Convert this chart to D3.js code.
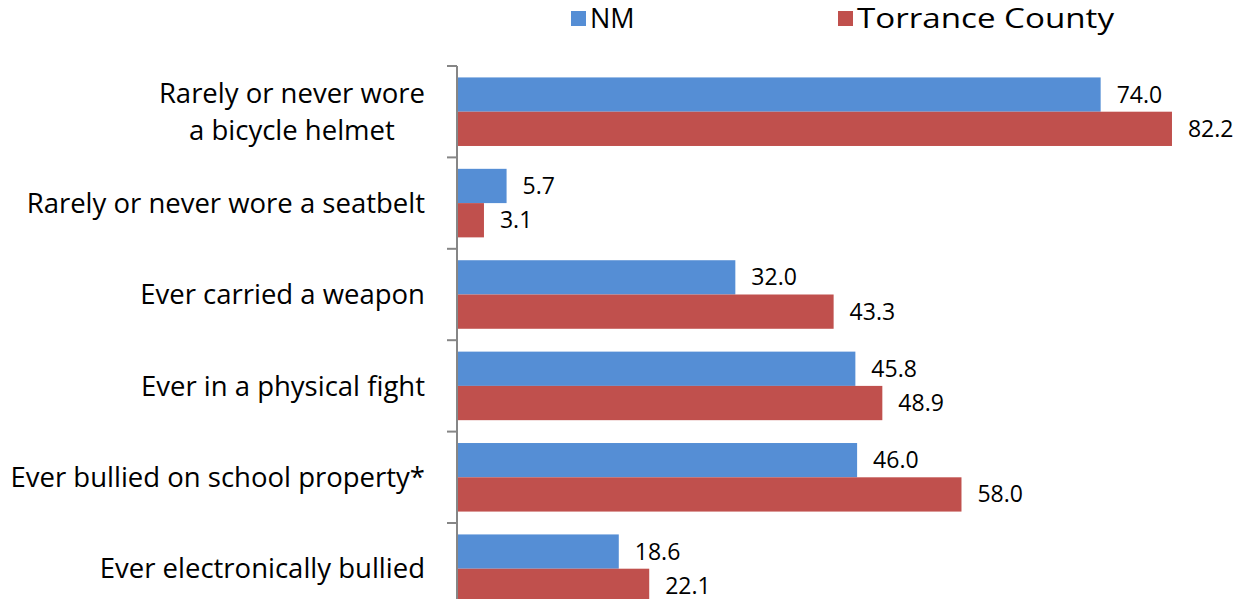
<!DOCTYPE html>
<html lang="en">
<head>
<meta charset="utf-8">
<title>Injury and violence indicators</title>
<script src="https://d3js.org/d3.v7.min.js"></script>
<style>
  body { margin: 0; background: #fff; }
  svg { display: block; font-family: "Open Sans", sans-serif; }
</style>
</head>
<body>
<script>
  // data
  var categories = [
    ["Rarely or never wore", "a bicycle helmet"],
    ["Rarely or never wore a seatbelt"],
    ["Ever carried a weapon"],
    ["Ever in a physical fight"],
    ["Ever bullied on school property*"],
    ["Ever electronically bullied"]
  ];
  var seriesNames = ["NM", "Torrance County"];
  var nmValues = [74.0, 5.7, 32.0, 45.8, 46.0, 18.6];
  var torranceValues = [82.2, 3.1, 43.3, 48.9, 58.0, 22.1];
  var colors = ["#558ed5", "#c0504d"];

  var svgWidth = 1241, svgHeight = 599;
  var axisX = 457, plotTop = 66, band = 91.4;

  var svg = d3.select("body").append("svg")
    .attr("width", svgWidth)
    .attr("height", svgHeight);

  var y = d3.scaleBand()
    .domain(d3.range(categories.length))
    .range([plotTop, plotTop + band * categories.length])
    .paddingInner(0.25)
    .paddingOuter(0.125);

  var inner = d3.scaleBand()
    .domain([0, 1])
    .range([0, y.bandwidth()]);

  var x = d3.scaleLinear()
    .domain([0, 100])
    .range([axisX, axisX + 869.8]);

  var rows = categories.map(function(c, i) {
    return { i: i, values: [nmValues[i], torranceValues[i]] };
  });

  var groups = svg.append("g").selectAll("g")
    .data(rows)
    .enter().append("g")
    .attr("transform", function(d) { return "translate(0," + y(d.i) + ")"; });

  groups.selectAll("rect")
    .data(function(d) { return d.values.map(function(v, k) { return { k: k, v: v }; }); })
    .enter().append("rect")
    .attr("x", x(0))
    .attr("y", function(d) { return inner(d.k); })
    .attr("width", function(d) { return x(d.v) - x(0); })
    .attr("height", inner.bandwidth())
    .attr("fill", function(d) { return colors[d.k]; });

  groups.selectAll("text.val")
    .data(function(d) { return d.values.map(function(v, k) { return { k: k, v: v }; }); })
    .enter().append("text")
    .attr("class", "val")
    .attr("x", function(d) { return x(d.v) + 16; })
    .attr("y", function(d) { return inner(d.k) + inner.bandwidth() / 2; })
    .attr("dy", "0.35em")
    .attr("font-size", 23)
    .attr("fill", "#000")
    .text(function(d) { return d3.format(".1f")(d.v); });

  // vertical axis with ticks at category boundaries
  var axisG = svg.append("g").attr("stroke", "#868686").attr("stroke-width", 2);
  axisG.append("line")
    .attr("x1", axisX).attr("x2", axisX)
    .attr("y1", plotTop).attr("y2", plotTop + band * categories.length);
  axisG.selectAll("line.tick")
    .data(d3.range(categories.length + 1))
    .enter().append("line")
    .attr("class", "tick")
    .attr("x1", axisX - 10).attr("x2", axisX)
    .attr("y1", function(d) { return plotTop + band * d; })
    .attr("y2", function(d) { return plotTop + band * d; });

  // category labels
  var labels = svg.append("g").selectAll("text")
    .data(categories)
    .enter().append("text")
    .attr("font-size", 27.5)
    .attr("fill", "#000");

  labels.each(function(lines, i) {
    var t = d3.select(this);
    var cy = plotTop + band * i + band / 2;
    var lh = 37;
    lines.forEach(function(line, j) {
      t.append("tspan")
        .attr("y", cy + (j - (lines.length - 1) / 2) * lh)
        .attr("dy", "0.35em")
        .text(line);
    });
    if (lines.length === 1) {
      t.attr("text-anchor", "end").selectAll("tspan").attr("x", 425);
    } else {
      var w = 0;
      t.selectAll("tspan").each(function() { w = Math.max(w, this.getComputedTextLength()); });
      t.attr("text-anchor", "middle").selectAll("tspan").attr("x", 425 - w / 2);
    }
  });

  // legend
  var legendX = [571, 838];
  var legend = svg.append("g").selectAll("g")
    .data(seriesNames)
    .enter().append("g")
    .attr("transform", function(d, i) { return "translate(" + legendX[i] + ",11)"; });
  legend.append("rect")
    .attr("width", 15).attr("height", 15)
    .attr("fill", function(d, i) { return colors[i]; });
  legend.append("text")
    .attr("x", 19).attr("y", 8)
    .attr("dy", "0.35em")
    .attr("font-size", 27)
    .text(function(d) { return d; })
    .filter(function(d, i) { return i === 1; })
    .attr("textLength", 257)
    .attr("lengthAdjust", "spacingAndGlyphs");
</script>
</body>
</html>
